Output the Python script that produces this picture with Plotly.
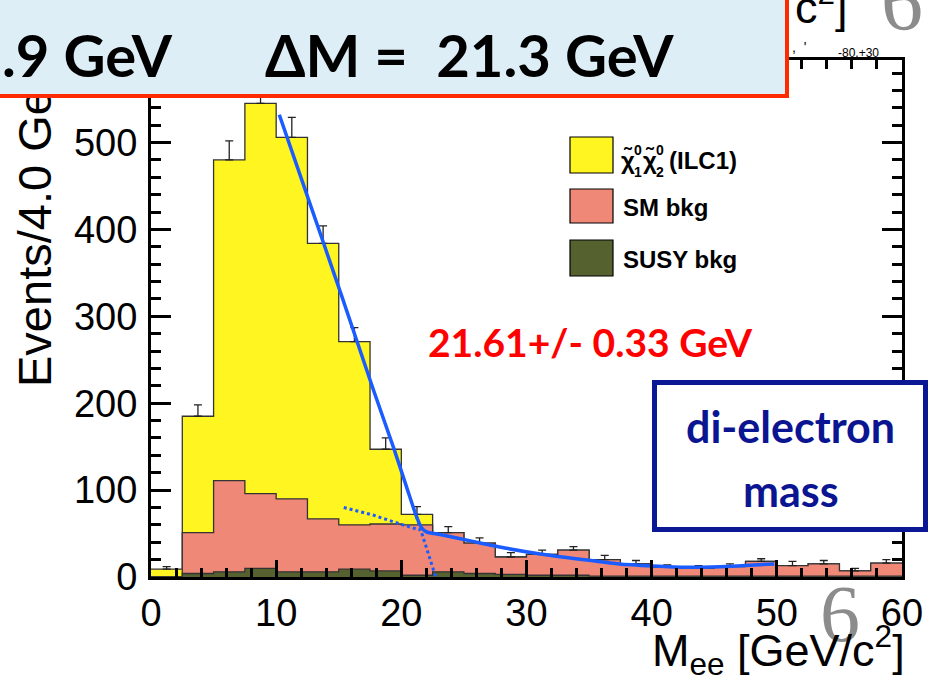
import plotly.graph_objects as go

# ---------------- data ----------------
bin_edges = [0, 2.5, 5, 7.5, 10, 12.5, 15, 17.5, 20, 22.5, 25, 27.5, 30,
             32.5, 35, 37.5, 40, 42.5, 45, 47.5, 50, 52.5, 55, 57.5, 60]
# stacked tops: signal+SM+SUSY, SM+SUSY, SUSY
total_stack = [9, 185, 480, 545, 506, 384, 271, 147, 72, 51, 39, 23,
               26, 31, 20, 15, 11, 10, 12, 18, 13, 15, 7, 16]
sm_stack = [0, 51, 111, 96, 90, 67, 60, 61, 60, 51, 39, 23,
            26, 31, 20, 15, 11, 10, 12, 18, 13, 15, 7, 16]
susy_bkg = [0, 4, 6, 10, 6, 6, 9, 7, 2, 6, 4, 3,
            2, 2, 1, 1, 1, 1, 1, 1, 1, 1, 1, 1]
errors = [3, 13, 22, 23, 23, 20, 16, 13, 9, 7, 6, 5,
          5, 4, 5, 4, 3, 3, 3, 3, 5, 4, 3, 4]

fit_x = [10.25, 12.5, 15.2, 17.8, 19.4, 20.5, 21.2, 21.6, 22.0, 23.1, 25.7,
         28.4, 31.1, 34.8, 37.4, 40.1, 42.8, 45.5, 48.2, 49.8]
fit_y = [532, 438, 325, 214, 148, 100, 70, 57, 52, 49, 41,
         33, 26.5, 19.6, 15, 12.7, 11.2, 11.9, 13.8, 15]
edge_dot_x = [21.2, 22.75]
edge_dot_y = [70, 0]
bkg_dot_x = [15.4, 17.8, 19.9, 21.5]
bkg_dot_y = [80, 71, 61, 54]

x_ticks = [0, 10, 20, 30, 40, 50, 60]
y_ticks = [0, 100, 200, 300, 400, 500]

legend_labels = ["SM bkg", "SUSY bkg"]

# ---------------- layout geometry ----------------
W, H = 932, 680
ML, MR, MT, MB = 151, 30, 60, 103
PW = W - ML - MR
PH = H - MT - MB


def pxx(x):
    return (x - ML) / PW


def pxy(y):
    return (H - MB - y) / PH


YELLOW = "#FFF520"
SALMON = "#F08878"
OLIVE = "#566130"
OUTLINE = "#333333"
BLUE = "#1A5CFF"


def step_y(vals):
    return list(vals) + [vals[-1]]


fig = go.Figure()
for vals, col in [(total_stack, YELLOW), (sm_stack, SALMON), (susy_bkg, OLIVE)]:
    fig.add_trace(go.Scatter(
        x=bin_edges, y=step_y(vals), mode="lines", line_shape="hv",
        line=dict(color=OUTLINE, width=1.3), fill="tozeroy", fillcolor=col,
        showlegend=False, hoverinfo="skip"))

centers = [(bin_edges[i] + bin_edges[i + 1]) / 2 for i in range(len(total_stack))]
fig.add_trace(go.Scatter(
    x=centers, y=total_stack, mode="markers",
    marker=dict(size=1, color="rgba(0,0,0,0)"),
    error_y=dict(type="data", symmetric=False, array=errors,
                 arrayminus=[0] * len(errors), color="#222222",
                 thickness=1.3, width=4),
    showlegend=False, hoverinfo="skip"))

fig.add_trace(go.Scatter(x=bkg_dot_x, y=bkg_dot_y, mode="lines",
                         line=dict(color=BLUE, width=3, dash="dot"),
                         showlegend=False))
fig.add_trace(go.Scatter(x=edge_dot_x, y=edge_dot_y, mode="lines",
                         line=dict(color=BLUE, width=3, dash="dot"),
                         showlegend=False))
fig.add_trace(go.Scatter(x=fit_x, y=fit_y, mode="lines", line_shape="spline",
                         line=dict(color=BLUE, width=3.5, smoothing=0.6),
                         showlegend=False))

axis_common = dict(showgrid=False, zeroline=False, showline=True, linewidth=3,
                   linecolor="black", mirror="ticks", ticks="inside",
                   tickcolor="black", tickwidth=3,
                   tickfont=dict(family="Liberation Sans", size=38, color="black"))

fig.update_layout(
    width=W, height=H,
    margin=dict(l=ML, r=MR, t=MT, b=MB, autoexpand=False),
    paper_bgcolor="white", plot_bgcolor="white",
    xaxis=dict(range=[0, 60], tickvals=x_ticks, ticklen=17,
               minor=dict(dtick=2, tick0=0, ticklen=9, tickwidth=3,
                          tickcolor="black", ticks="inside"),
               ticklabelstandoff=0, **axis_common),
    yaxis=dict(range=[0, 595], tickvals=y_ticks, ticklen=20,
               minor=dict(dtick=20, tick0=0, ticklen=10, tickwidth=3,
                          tickcolor="black", ticks="inside"),
               ticklabelstandoff=3, **axis_common),
)

shapes = []
# legend swatches
for (y0, y1), col in zip([(137, 173), (189, 223), (240, 276)], [YELLOW, SALMON, OLIVE]):
    shapes.append(dict(type="rect", xref="paper", yref="paper",
                       x0=pxx(570), x1=pxx(613), y0=pxy(y1), y1=pxy(y0),
                       fillcolor=col, line=dict(color="black", width=1.2),
                       layer="above"))
# di-electron box
shapes.append(dict(type="rect", xref="paper", yref="paper",
                   x0=pxx(654.5), x1=pxx(925.5), y0=pxy(529.5), y1=pxy(382.5),
                   fillcolor="white", line=dict(color="#0B1896", width=5),
                   layer="above"))
fig.update_layout(shapes=shapes)

ann = []
# y title (drawn first so header box covers its end)
ann.append(dict(text="Events/4.0 GeV", textangle=-90, xref="paper", yref="paper",
                x=pxx(34), y=pxy(389), xanchor="center", yanchor="bottom",
                showarrow=False,
                font=dict(family="Liberation Sans", size=47, color="black")))
# header box
ann.append(dict(text=" ", xref="paper", yref="paper", x=pxx(789), y=pxy(98),
                xanchor="right", yanchor="bottom", width=811, height=120,
                bgcolor="#DEEEF7", bordercolor="#FF2A00", borderwidth=4,
                borderpad=0, showarrow=False))
hfont = dict(family="Lato", size=58, color="black", weight="bold")
ann.append(dict(text=".9 GeV", xref="paper", yref="paper", x=pxx(0), y=pxy(55),
                xanchor="left", yanchor="middle", showarrow=False, font=hfont))
ann.append(dict(text="ΔM =\u00a0 21.3 GeV", xref="paper", yref="paper",
                x=pxx(263), y=pxy(55), xanchor="left", yanchor="middle",
                showarrow=False, font=hfont))
# top-right remnants
ann.append(dict(text="c<sup>2</sup>]", xref="paper", yref="paper", x=pxx(793),
                y=pxy(4), xanchor="left", yanchor="middle", showarrow=False,
                font=dict(family="Liberation Sans", size=45, color="black")))
ann.append(dict(text="6", xref="paper", yref="paper", x=pxx(902), y=pxy(2),
                xanchor="center", yanchor="middle", showarrow=False,
                font=dict(family="Liberation Serif", size=84, color="#8C8C8C")))
ann.append(dict(text=",\u00a0 '", xref="paper", yref="paper", x=pxx(790), y=pxy(47),
                xanchor="left", yanchor="middle", showarrow=False,
                font=dict(family="Liberation Sans", size=14, color="black")))
ann.append(dict(text="-80,+30", xref="paper", yref="paper", x=pxx(858), y=pxy(53),
                xanchor="center", yanchor="middle", showarrow=False,
                font=dict(family="Liberation Sans", size=12, color="black")))
# legend text
lfont = dict(family="Liberation Sans", size=24, color="black", weight="bold")
sfont = dict(family="Liberation Sans", size=14, color="black", weight="bold")
ann.append(dict(text="χ\u0303", xref="paper", yref="paper", x=pxx(619), y=pxy(160),
                xanchor="left", yanchor="middle", showarrow=False, font=lfont))
ann.append(dict(text="0", xref="paper", yref="paper", x=pxx(632), y=pxy(150),
                xanchor="left", yanchor="middle", showarrow=False, font=sfont))
ann.append(dict(text="1", xref="paper", yref="paper", x=pxx(632), y=pxy(172),
                xanchor="left", yanchor="middle", showarrow=False, font=sfont))
ann.append(dict(text="χ\u0303", xref="paper", yref="paper", x=pxx(641), y=pxy(160),
                xanchor="left", yanchor="middle", showarrow=False, font=lfont))
ann.append(dict(text="0", xref="paper", yref="paper", x=pxx(654), y=pxy(150),
                xanchor="left", yanchor="middle", showarrow=False, font=sfont))
ann.append(dict(text="2", xref="paper", yref="paper", x=pxx(654), y=pxy(172),
                xanchor="left", yanchor="middle", showarrow=False, font=sfont))
ann.append(dict(text="(ILC1)", xref="paper", yref="paper", x=pxx(667), y=pxy(160),
                xanchor="left", yanchor="middle", showarrow=False, font=lfont))
for lab, yc in zip(legend_labels, [207, 259]):
    ann.append(dict(text=lab, xref="paper", yref="paper", x=pxx(621), y=pxy(yc),
                    xanchor="left", yanchor="middle", showarrow=False, font=lfont))
# fit result
ann.append(dict(text="21.61+/- 0.33 GeV", xref="paper", yref="paper",
                x=pxx(590), y=pxy(342), xanchor="center", yanchor="middle",
                showarrow=False,
                font=dict(family="Lato", size=39, color="#FF0000", weight="bold")))
# di-electron mass text
bfont = dict(family="Lato", size=43, color="#0B1591", weight="bold")
ann.append(dict(text="di-electron", xref="paper", yref="paper", x=pxx(790),
                y=pxy(426), xanchor="center", yanchor="middle", showarrow=False,
                font=bfont))
ann.append(dict(text="mass", xref="paper", yref="paper", x=pxx(791),
                y=pxy(490), xanchor="center", yanchor="middle", showarrow=False,
                font=bfont))
# gray slide-number 6 then x title on top
ann.append(dict(text="6", xref="paper", yref="paper", x=pxx(840), y=pxy(614),
                xanchor="center", yanchor="middle", showarrow=False,
                font=dict(family="Liberation Serif", size=80, color="#8C8C8C")))
ann.append(dict(text="M<sub>ee</sub> [GeV/c<sup>2</sup>]", xref="paper",
                yref="paper", x=pxx(907), y=pxy(650), xanchor="right",
                yanchor="middle", showarrow=False,
                font=dict(family="Liberation Sans", size=45, color="black")))
fig.update_layout(annotations=ann)

fig.write_html("out.html")
